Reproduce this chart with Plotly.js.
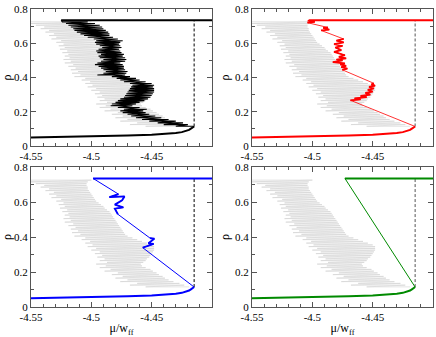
<!DOCTYPE html>
<html>
<head>
<meta charset="utf-8">
<script src="https://cdn.plot.ly/plotly-3.0.1.min.js"></script>
<style>
  html, body { margin: 0; padding: 0; background: #fff; }
  #chart { width: 436px; height: 337px; }
</style>
</head>
<body>
<div id="chart"></div>
<script>
// axis ticks
const xTickVals = [-4.55, -4.5, -4.45];
const xTickText = ['-4.55', '-4.5', '-4.45'];
const yTickVals = [0, 0.2, 0.4, 0.6, 0.8];
const yTickText = ['0', '0.2', '0.4', '0.6', '0.8'];

// low-density branch (shared by every panel)
const muBottom = [-4.55, -4.53, -4.51, -4.49, -4.47, -4.45, -4.44, -4.43, -4.425, -4.421, -4.419, -4.4175, -4.4148];
const rhoBottom = [0.050, 0.052, 0.054, 0.057, 0.061, 0.066, 0.070, 0.076, 0.081, 0.088, 0.094, 0.101, 0.114];

// coexistence line and high-density plateau
const muCoex = -4.4148;
const rhoCoexLow = 0.114;
const rhoTop = 0.735;
const muTopEnd = -4.40;

// grey reference loop: rho level, left tip, right tip
const grayRho = [0.115, 0.125, 0.135, 0.145, 0.155, 0.165, 0.175, 0.185, 0.195, 0.205,
  0.215, 0.225, 0.235, 0.245, 0.255, 0.265, 0.275, 0.285, 0.295, 0.305,
  0.315, 0.325, 0.335, 0.345, 0.355, 0.365, 0.375, 0.385, 0.395, 0.405,
  0.415, 0.425, 0.435, 0.445, 0.455, 0.465, 0.475, 0.485, 0.495, 0.505,
  0.515, 0.525, 0.535, 0.545, 0.555, 0.565, 0.575, 0.585, 0.595, 0.605,
  0.615, 0.625, 0.635, 0.645, 0.655, 0.665, 0.675, 0.685, 0.695, 0.705,
  0.715, 0.725];
const grayLo = [-4.455, -4.468, -4.462, -4.476, -4.470, -4.480, -4.474, -4.483, -4.478, -4.489,
  -4.484, -4.493, -4.488, -4.496, -4.487, -4.493, -4.489, -4.495, -4.491, -4.497,
  -4.493, -4.500, -4.496, -4.503, -4.499, -4.505, -4.501, -4.508, -4.505, -4.514,
  -4.509, -4.516, -4.511, -4.517, -4.513, -4.519, -4.515, -4.522, -4.517, -4.523,
  -4.518, -4.522, -4.519, -4.524, -4.520, -4.526, -4.522, -4.527, -4.523, -4.529,
  -4.525, -4.533, -4.529, -4.535, -4.531, -4.538, -4.535, -4.542, -4.539, -4.546,
  -4.550, -4.550];
const grayHi = [-4.419, -4.423, -4.427, -4.432, -4.436, -4.439, -4.441, -4.444, -4.446, -4.449,
  -4.451, -4.455, -4.458, -4.459, -4.457, -4.455, -4.454, -4.452, -4.451, -4.450,
  -4.449, -4.448, -4.448, -4.448, -4.450, -4.454, -4.458, -4.462, -4.466, -4.470,
  -4.472, -4.473, -4.474, -4.475, -4.476, -4.477, -4.478, -4.479, -4.480, -4.481,
  -4.482, -4.483, -4.484, -4.485, -4.487, -4.489, -4.490, -4.492, -4.494, -4.496,
  -4.497, -4.498, -4.499, -4.500, -4.501, -4.502, -4.503, -4.503, -4.504, -4.504,
  -4.503, -4.500];

// black loop (panel a): rho level, left tip, right tip
const blackRho = [0.115, 0.125, 0.135, 0.145, 0.155, 0.165, 0.175, 0.185, 0.195, 0.205,
  0.215, 0.225, 0.235, 0.245, 0.255, 0.265, 0.275, 0.285, 0.295, 0.305,
  0.315, 0.325, 0.335, 0.345, 0.355, 0.365, 0.375, 0.385, 0.395, 0.405,
  0.415, 0.425, 0.435, 0.445, 0.455, 0.465, 0.475, 0.485, 0.495, 0.505,
  0.515, 0.525, 0.535, 0.545, 0.555, 0.565, 0.575, 0.585, 0.595, 0.605,
  0.615, 0.625, 0.635, 0.645, 0.655, 0.665, 0.675, 0.685, 0.695, 0.705,
  0.715, 0.725];
const blackLo = [-4.430, -4.440, -4.445, -4.452, -4.458, -4.463, -4.467, -4.470, -4.474, -4.476,
  -4.473, -4.478, -4.484, -4.483, -4.480, -4.478, -4.476, -4.473, -4.472, -4.471,
  -4.470, -4.469, -4.468, -4.467, -4.466, -4.468, -4.473, -4.476, -4.479, -4.483,
  -4.495, -4.490, -4.488, -4.490, -4.492, -4.494, -4.497, -4.495, -4.492, -4.490,
  -4.493, -4.494, -4.492, -4.495, -4.496, -4.494, -4.491, -4.493, -4.496, -4.497,
  -4.496, -4.498, -4.503, -4.506, -4.509, -4.512, -4.514, -4.515, -4.517, -4.519,
  -4.521, -4.524];
const blackHi = [-4.416, -4.420, -4.424, -4.430, -4.436, -4.442, -4.447, -4.452, -4.455, -4.457,
  -4.454, -4.460, -4.466, -4.463, -4.460, -4.456, -4.453, -4.451, -4.450, -4.449,
  -4.448, -4.448, -4.448, -4.449, -4.448, -4.450, -4.455, -4.460, -4.463, -4.468,
  -4.472, -4.471, -4.470, -4.472, -4.473, -4.473, -4.474, -4.476, -4.472, -4.471,
  -4.472, -4.474, -4.473, -4.475, -4.476, -4.477, -4.475, -4.476, -4.477, -4.476,
  -4.474, -4.478, -4.482, -4.485, -4.485, -4.486, -4.488, -4.490, -4.491, -4.493,
  -4.497, -4.503];
const blackTopMu = -4.525;

// red path (panel b): dense clusters joined by single jumps
const muRed1 = [-4.4684, -4.460, -4.465, -4.455, -4.460, -4.452, -4.456, -4.450, -4.454, -4.449, -4.453, -4.448, -4.451, -4.449];
const rhoRed1 = [0.267, 0.272, 0.278, 0.285, 0.292, 0.300, 0.310, 0.318, 0.328, 0.336, 0.345, 0.352, 0.360, 0.366];
const muRed2 = [-4.4752, -4.471, -4.476, -4.472, -4.477, -4.473, -4.483, -4.475, -4.480, -4.472,
  -4.478, -4.473, -4.482, -4.476, -4.481, -4.475, -4.482, -4.474, -4.480, -4.474];
const rhoRed2 = [0.445, 0.452, 0.460, 0.468, 0.476, 0.482, 0.490, 0.500, 0.505, 0.512,
  0.520, 0.530, 0.550, 0.560, 0.575, 0.585, 0.595, 0.605, 0.615, 0.625];
const muRed3 = [-4.4928, -4.486, -4.491, -4.487];
const rhoRed3 = [0.675, 0.680, 0.690, 0.692];
const muRed4 = [-4.504, -4.498, -4.503, -4.5027];
const rhoRed4 = [0.720, 0.725, 0.732, 0.735];
const muRedDot = [-4.4615];
const rhoRedDot = [0.244];

// blue path (panel c)
const muBlue1 = [-4.4574, -4.4484, -4.4527, -4.4478, -4.4514];
const rhoBlue1 = [0.339, 0.360, 0.364, 0.390, 0.394];
const muBlue2 = [-4.478, -4.4805, -4.4735, -4.4805, -4.4745, -4.4725, -4.485, -4.4775];
const rhoBlue2 = [0.530, 0.562, 0.569, 0.585, 0.610, 0.632, 0.628, 0.645];
const blueTopMu = -4.4986;

// green path (panel d)
const greenTopMu = -4.473;

function zigzag(rho, lo, hi) {
  const x = [], y = [];
  rho.forEach((r, i) => {
    x.push(hi[i], lo[i]);
    y.push(r, r);
  });
  return { x, y };
}

const gray = zigzag(grayRho, grayLo, grayHi);
const black = zigzag(blackRho, blackLo, blackHi);

const panels = [
  {
    xa: 'x', ya: 'y', color: '#000000', dash: '#000000', topMu: blackTopMu,
    thin: { x: black.x.concat([blackTopMu]), y: black.y.concat([rhoTop]), w: 1.1 },
    thick: []
  },
  {
    xa: 'x2', ya: 'y2', color: '#ff0000', dash: '#555555', topMu: muRed4[muRed4.length - 1],
    thin: {
      x: muRedDot.concat(muRed1, muRed2, muRed3, muRed4),
      y: rhoRedDot.concat(rhoRed1, rhoRed2, rhoRed3, rhoRed4), w: 0.8
    },
    thick: [[muRed1, rhoRed1], [muRed2, rhoRed2], [muRed3, rhoRed3], [muRed4, rhoRed4]]
  },
  {
    xa: 'x3', ya: 'y3', color: '#0000ff', dash: '#000000', topMu: blueTopMu,
    thin: { x: muBlue1.concat(muBlue2, [blueTopMu]), y: rhoBlue1.concat(rhoBlue2, [rhoTop]), w: 1 },
    thick: [[muBlue1, rhoBlue1], [muBlue2, rhoBlue2]]
  },
  {
    xa: 'x4', ya: 'y4', color: '#008a00', dash: '#555555', topMu: greenTopMu,
    thin: { x: [greenTopMu], y: [rhoTop], w: 1 },
    thick: []
  }
];

const traces = [];
panels.forEach(p => {
  const base = { xaxis: p.xa, yaxis: p.ya, type: 'scatter', mode: 'lines', hoverinfo: 'skip' };
  traces.push(Object.assign({}, base, {
    x: gray.x, y: gray.y, line: { color: '#d2d2d2', width: 0.6 }
  }));
  traces.push(Object.assign({}, base, {
    x: [muCoex, muCoex], y: [rhoCoexLow, rhoTop],
    line: { color: p.dash, width: 1, dash: '3px,2px' }
  }));
  traces.push(Object.assign({}, base, {
    x: muBottom, y: rhoBottom, line: { color: p.color, width: 2 }
  }));
  traces.push(Object.assign({}, base, {
    x: [muCoex].concat(p.thin.x), y: [rhoCoexLow].concat(p.thin.y),
    line: { color: p.color, width: p.thin.w }
  }));
  p.thick.forEach(seg => {
    traces.push(Object.assign({}, base, {
      x: seg[0], y: seg[1], line: { color: p.color, width: 1.8 }
    }));
  });
  traces.push(Object.assign({}, base, {
    x: [p.topMu, muTopEnd], y: [rhoTop, rhoTop], line: { color: p.color, width: 2 }
  }));
});

const serif = '"Liberation Serif", "DejaVu Serif", serif';
const axisColor = '#555555';

function xAxis(domain, anchor, withTitle) {
  const ax = {
    domain: domain, anchor: anchor, range: [-4.55, -4.40],
    tickmode: 'array', tickvals: xTickVals, ticktext: xTickText,
    ticks: 'inside', ticklen: 5, tickcolor: axisColor, tickwidth: 1,
    minor: { tickmode: 'linear', tick0: -4.55, dtick: 0.01, ticks: 'inside', ticklen: 3, tickcolor: axisColor },
    showline: true, linecolor: axisColor, linewidth: 1, mirror: 'ticks',
    showgrid: false, zeroline: false,
    tickfont: { family: serif, size: 11, color: '#000' }
  };
  if (withTitle) {
    ax.title = { text: 'μ/w<sub>ff</sub>', font: { family: serif, size: 12, color: '#000' }, standoff: 4 };
  }
  return ax;
}

function yAxis(domain, anchor) {
  return {
    domain: domain, anchor: anchor, range: [0, 0.8],
    tickmode: 'array', tickvals: yTickVals, ticktext: yTickText,
    ticks: 'inside', ticklen: 5, tickcolor: axisColor, tickwidth: 1,
    minor: { tickmode: 'linear', tick0: 0, dtick: 0.1, ticks: 'inside', ticklen: 3, tickcolor: axisColor },
    showline: true, linecolor: axisColor, linewidth: 1, mirror: 'ticks',
    showgrid: false, zeroline: false, ticklabeloverflow: 'allow',
    tickfont: { family: serif, size: 11, color: '#000' },
    title: { text: 'ρ', font: { family: serif, size: 12, color: '#000' }, standoff: 2 }
  };
}

// plot area is 436 x 328 once the 9px top margin is taken off
const colL = [31 / 436, 212 / 436];
const colR = [252 / 436, 433 / 436];
const rowT = [(328 - 137) / 328, 1];
const rowB = [(328 - 298) / 328, (328 - 158) / 328];

const layout = {
  width: 436,
  height: 337,
  margin: { l: 0, r: 0, t: 9, b: 0 },
  paper_bgcolor: '#ffffff',
  plot_bgcolor: '#ffffff',
  showlegend: false,
  xaxis: xAxis(colL, 'y', false),
  yaxis: yAxis(rowT, 'x'),
  xaxis2: xAxis(colR, 'y2', false),
  yaxis2: yAxis(rowT, 'x2'),
  xaxis3: xAxis(colL, 'y3', true),
  yaxis3: yAxis(rowB, 'x3'),
  xaxis4: xAxis(colR, 'y4', true),
  yaxis4: yAxis(rowB, 'x4')
};

Plotly.newPlot('chart', traces, layout, { displayModeBar: false, staticPlot: true });
</script>
</body>
</html>
